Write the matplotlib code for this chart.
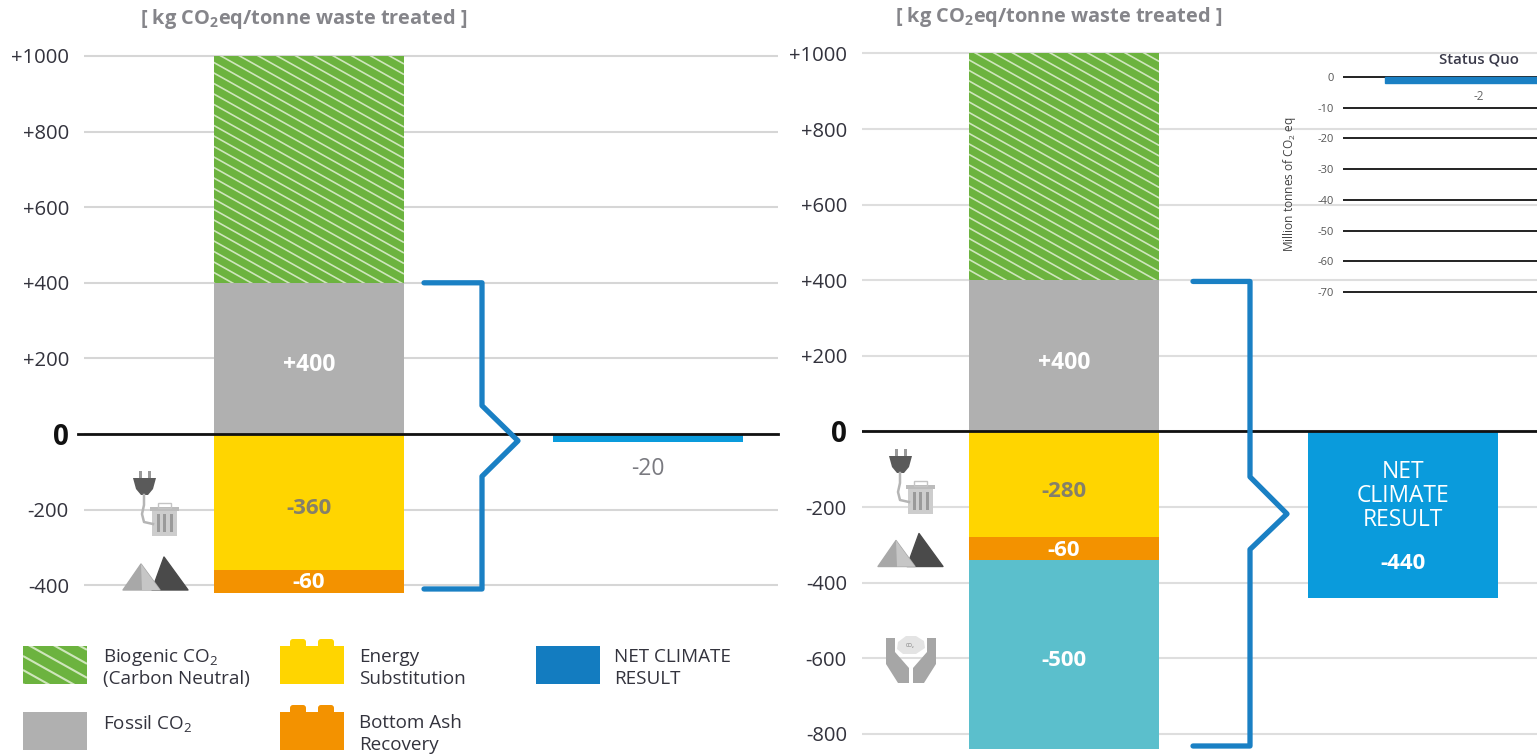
import numpy as np
import matplotlib
matplotlib.use("Agg")
import matplotlib.pyplot as plt
from matplotlib.collections import LineCollection
from matplotlib.patches import FancyBboxPatch, Polygon, Rectangle
from matplotlib.transforms import IdentityTransform, blended_transform_factory

plt.rcParams["font.family"] = ["Open Sans", "DejaVu Sans"]
plt.rcParams["mathtext.fontset"] = "custom"
plt.rcParams["mathtext.rm"] = "Open Sans"
plt.rcParams["mathtext.bf"] = "Open Sans:bold"
plt.rcParams["mathtext.default"] = "regular"

W, H = 1537, 755

# ---- values, kg CO2eq per tonne of waste treated ----
left_ticks = [1000, 800, 600, 400, 200, 0, -200, -400]
right_ticks = [1000, 800, 600, 400, 200, 0, -200, -400, -600, -800]

biogenic = 600
fossil = 400
left_energy = -360
left_ash = -60
left_net = -20
right_energy = -280
right_ash = -60
right_storage = -500
right_net = -440

# ---- national total inset, million tonnes CO2eq ----
inset_ticks = [0, -10, -20, -30, -40, -50, -60, -70]
inset_value = -2

# ---- bracket vertices: horizontal pixel position, chart value ----
left_brace_x = [424, 482, 482, 518, 482, 482, 424]
left_brace_y = [400, 400, 75, -18, -112, -410, -410]
right_brace_x = [1193, 1250, 1250, 1287, 1250, 1250, 1193]
right_brace_y = [397, 397, -120, -218, -312, -832, -832]

GREEN = "#6cb33f"
GREY = "#b0b0b0"
YELLOW = "#ffd500"
ORANGE = "#f39200"
TEAL = "#5bbfcc"
NET = "#0a9bdc"
BRACE = "#1a80c4"
LEGEND_NET = "#137cc0"
GRID = "#d6d6d6"
TEXT = "#33333d"
TITLE = "#85858a"


def label(v):
    if v > 0:
        return f"+{v}"
    return f"{v}"


def axes_px(fig, x0, x1, y_top, y_bottom):
    return fig.add_axes([x0 / W, 1 - y_bottom / H, (x1 - x0) / W, (y_bottom - y_top) / H])


def stripes(ax, patch, spacing, slope=0.56, lw=1.2, color="#cfe6bc"):
    """Shallow white diagonal stripes clipped to a bar (drawn in display space)."""
    box = patch.get_window_extent(fig.canvas.get_renderer())
    width = box.width
    offsets = np.arange(box.y0 - 2 * spacing, box.y1 + slope * width + spacing, spacing)
    segs = [[(box.x0, c), (box.x1, c - slope * width)] for c in offsets]
    lc = LineCollection(segs, colors=color, linewidths=lw, transform=IdentityTransform(),
                        zorder=patch.get_zorder() + 0.1)
    ax.add_collection(lc, autolim=False)
    lc.set_clip_path(patch)


def panel(x0, x1, zero_px, centre_px, ticks, grid_color=GRID):
    """One stacked-bar panel, with y scaled at 0.378 pixels per kg."""
    ax = axes_px(fig, x0, x1, 0, H)
    scale = 0.378
    ax.set_ylim((zero_px - H) / scale, zero_px / scale)
    spacing = 339.0
    ax.set_xlim((x0 - centre_px) / spacing, (x1 - centre_px) / spacing)
    ax.patch.set_alpha(0)
    for s in ax.spines.values():
        s.set_visible(False)
    ax.set_xticks([])
    ax.set_yticks(ticks)
    ax.set_yticklabels([label(t) for t in ticks], fontsize=14.6, color=TEXT)
    ax.tick_params(axis="y", length=0, pad=10.8)
    for t, lab in zip(ticks, ax.get_yticklabels()):
        if t == 0:
            lab.set_fontsize(20)
            lab.set_fontweight("bold")
            lab.set_color("#111111")
    ax.yaxis.grid(True, color=grid_color, linewidth=1.5, zorder=0)
    ax.set_axisbelow(True)
    return ax


def bar_text(ax, y, s, color, size=16, weight="bold"):
    ax.text(0, y, s, ha="center", va="center", fontsize=size, color=color, fontweight=weight, zorder=6)


def plug_and_bin(ov, dx, dy):
    c = "#5a5a5a"
    ov.add_patch(Polygon([(133 + dx, 478 + dy), (156 + dx, 478 + dy), (153 + dx, 489 + dy), (148 + dx, 495 + dy),
                          (141 + dx, 495 + dy), (136 + dx, 489 + dy)], fc=c, ec="none"))
    for px in (138.5, 147.5):
        ov.add_patch(Rectangle((px + dx, 471 + dy), 3, 7, fc="#9a9a9a", ec="none"))
    ov.plot([144 + dx, 144 + dx, 142 + dx, 144 + dx, 153 + dx],
            [495 + dy, 505 + dy, 514 + dy, 522 + dy, 524 + dy], color="#b5b5b5", lw=1.8)
    ov.add_patch(Rectangle((150 + dx, 507 + dy), 29, 4, fc="#bcbcbc", ec="none"))
    ov.add_patch(Rectangle((158 + dx, 502.5 + dy), 13, 5, fc="none", ec="#c4c4c4", lw=1))
    ov.add_patch(Polygon([(152 + dx, 511 + dy), (177 + dx, 511 + dy), (177 + dx, 536 + dy), (152 + dx, 536 + dy)],
                         fc="#cdcdcd", ec="none"))
    for px in (156.5, 163, 169.5):
        ov.add_patch(Rectangle((px + dx, 514 + dy), 3, 18, fc="#9a9a9a", ec="none"))


def piles(ov, dx, dy):
    ov.add_patch(Polygon([(152 + dx, 590 + dy), (188 + dx, 590 + dy), (164 + dx, 557 + dy)],
                         fc="#4a4a4a", ec="#4a4a4a", lw=1, joinstyle="round"))
    ov.add_patch(Polygon([(123 + dx, 590 + dy), (160 + dx, 590 + dy), (141 + dx, 564 + dy)],
                         fc="#a8a8a8", ec="#a8a8a8", lw=1, joinstyle="round"))
    ov.add_patch(Polygon([(141 + dx, 564 + dy), (160 + dx, 590 + dy), (142 + dx, 590 + dy)],
                         fc="#c6c6c6", ec="none"))


def hands(ov):
    c = "#a6a6a6"
    ov.add_patch(Polygon([(886, 638), (895, 638), (895, 652), (909, 668), (909, 683), (898, 683), (886, 664)],
                         fc=c, ec="none"))
    ov.add_patch(Polygon([(936, 638), (927, 638), (927, 652), (913, 668), (913, 683), (924, 683), (936, 664)],
                         fc=c, ec="none"))
    ov.add_patch(Polygon([(898, 642), (906, 636), (916, 636), (924, 641), (925, 648), (916, 654), (903, 654), (897, 649)],
                         fc="#e4e4e4", ec="none"))
    ov.text(910, 645, "CO₂", fontsize=3.6, ha="center", va="center", color="#777777")


def brick(ov, x0, y0, color):
    """Legend swatch shaped like a toy building block."""
    ov.add_patch(Rectangle((x0, y0), 64, 38, fc=color, ec="none"))
    for nx in (x0 + 10, x0 + 38):
        ov.add_patch(FancyBboxPatch((nx, y0 - 7), 16, 10, boxstyle="round,pad=0,rounding_size=3", fc=color, ec="none"))


fig = plt.figure(figsize=(W / 100, H / 100), dpi=100, facecolor="white")

# ---- left panel: status quo ----
ax_l = panel(84, 778, 434, 308.75, left_ticks)
bar_w = 190.5 / 339.0
bio_l = ax_l.bar(0, biogenic, bar_w, bottom=fossil, color=GREEN, zorder=3)[0]
ax_l.bar(0, fossil, bar_w, color=GREY, zorder=3)
ax_l.bar(0, left_energy, bar_w, color=YELLOW, zorder=3)
ax_l.bar(0, left_ash, bar_w, bottom=left_energy, color=ORANGE, zorder=3)
ax_l.bar(1, left_net, bar_w, color=NET, zorder=3)
ax_l.plot([-0.0086, 1], [0, 0], transform=ax_l.get_yaxis_transform(), color="#111111", lw=2, clip_on=False, zorder=5)
bar_text(ax_l, fossil / 2 - 18, label(fossil), "white", size=16.5)
bar_text(ax_l, left_energy / 2 - 18, label(left_energy), "#85806a")
bar_text(ax_l, left_energy + left_ash / 2 - 2, label(left_ash), "white")
ax_l.text(1, -93, label(left_net), ha="center", va="center", fontsize=16.5, color="#7a7a80")

# ---- right panel: with carbon capture ----
ax_r = panel(862, 1537, 431.5, 1064, right_ticks, grid_color="#dedede")
bio_r = ax_r.bar(0, biogenic, bar_w, bottom=fossil, color=GREEN, zorder=3)[0]
ax_r.bar(0, fossil, bar_w, color=GREY, zorder=3)
ax_r.bar(0, right_energy, bar_w, color=YELLOW, zorder=3)
ax_r.bar(0, right_ash, bar_w, bottom=right_energy, color=ORANGE, zorder=3)
ax_r.bar(0, right_storage, bar_w, bottom=right_energy + right_ash, color=TEAL, zorder=3)
ax_r.bar(1, right_net, bar_w, color=NET, zorder=3)
ax_r.plot([0, 1], [0, 0], transform=ax_r.get_yaxis_transform(), color="#111111", lw=2, zorder=5)
bar_text(ax_r, fossil / 2 - 18, label(fossil), "white", size=16.5)
bar_text(ax_r, right_energy / 2 - 18, label(right_energy), "#85806a")
bar_text(ax_r, right_energy + right_ash / 2 - 5, label(right_ash), "white")
bar_text(ax_r, right_energy + right_ash + right_storage / 2 - 16, label(right_storage), "white")
for yy, word in zip((-107, -170, -234), ("NET", "CLIMATE", "RESULT")):
    ax_r.text(1, yy, word, ha="center", va="center", fontsize=16.4, color="white", zorder=6)
ax_r.text(1, -349, label(right_net), ha="center", va="center", fontsize=16, fontweight="bold", color="white", zorder=6)

# ---- full-figure overlay working in pixels ----
ov = fig.add_axes([0, 0, 1, 1], zorder=4)
ov.set_xlim(0, W)
ov.set_ylim(H, 0)
ov.axis("off")

for ax, bx, by in ((ax_l, left_brace_x, left_brace_y), (ax_r, right_brace_x, right_brace_y)):
    tr = blended_transform_factory(ov.transData, ax.transData)
    ov.plot(bx, by, transform=tr, color=BRACE, lw=3.8, solid_joinstyle="round", solid_capstyle="round", zorder=8)

fig.canvas.draw()
stripes(ax_l, bio_l, 10.5)
stripes(ax_r, bio_r, 10.5)

title = r"[ kg CO$_{\mathbf{2}}$eq/tonne waste treated ]"
ov.text(303.5, 19, title, ha="center", va="center", fontsize=14.4, fontweight="bold", color=TITLE)
ov.text(1059, 17, title, ha="center", va="center", fontsize=14.4, fontweight="bold", color=TITLE)

plug_and_bin(ov, 0, 0)
piles(ov, 0, 0)
plug_and_bin(ov, 756, -22)
piles(ov, 755, -23.5)
hands(ov)

# ---- legend ----
hatch_box = Rectangle((23, 646), 64, 38, fc=GREEN, ec="none")
ov.add_patch(hatch_box)
fig.canvas.draw()
stripes(ov, hatch_box, 14, lw=1.5)
ov.add_patch(Rectangle((23, 712), 64, 38, fc=GREY, ec="none"))
brick(ov, 280, 646, YELLOW)
brick(ov, 280, 712, ORANGE)
ov.add_patch(Rectangle((536, 646), 64, 38, fc=LEGEND_NET, ec="none"))
legend_text = [
    (103, 657, "Biogenic CO$_2$"),
    (103, 679, "(Carbon Neutral)"),
    (103, 723, "Fossil CO$_2$"),
    (359, 657, "Energy"),
    (359, 679, "Substitution"),
    (359, 723, "Bottom Ash"),
    (359, 745, "Recovery"),
    (614, 657, "NET CLIMATE"),
    (614, 679, "RESULT"),
]
for lx, ly, s in legend_text:
    ov.text(lx, ly, s, ha="left", va="center", fontsize=13.6, color=TEXT)

# ---- inset: national total ----
ax_i = axes_px(fig, 1343, 1537, 70, 300)
ax_i.set_zorder(5)
ax_i.patch.set_alpha(0)
ax_i.set_ylim(-72.6, 2.28)
ax_i.set_xlim((1343 - 1479) / 315, (1537 - 1479) / 315)
for s in ax_i.spines.values():
    s.set_visible(False)
ax_i.set_xticks([])
ax_i.set_yticks(inset_ticks)
ax_i.set_yticklabels([str(t) for t in inset_ticks], fontsize=8, color="#555555")
ax_i.tick_params(axis="y", length=0, pad=6.5)
ax_i.yaxis.grid(True, color="#222222", linewidth=1.4, zorder=0)
ax_i.set_axisbelow(True)
ax_i.bar(0, inset_value, 0.6, color=BRACE, edgecolor=BRACE, linewidth=1, zorder=3)
ov.text(1479, 60, "Status Quo", ha="center", va="center", fontsize=10.8, fontweight="semibold", color="#3a3a4a")
ov.text(1479, 96, label(inset_value), ha="center", va="center", fontsize=8.5, color="#666666")
ov.text(1289, 184, "Million tonnes of CO$_2$ eq", rotation=90, ha="center", va="center", fontsize=8.6, color="#444444")

fig.savefig("out.png", dpi=100)
